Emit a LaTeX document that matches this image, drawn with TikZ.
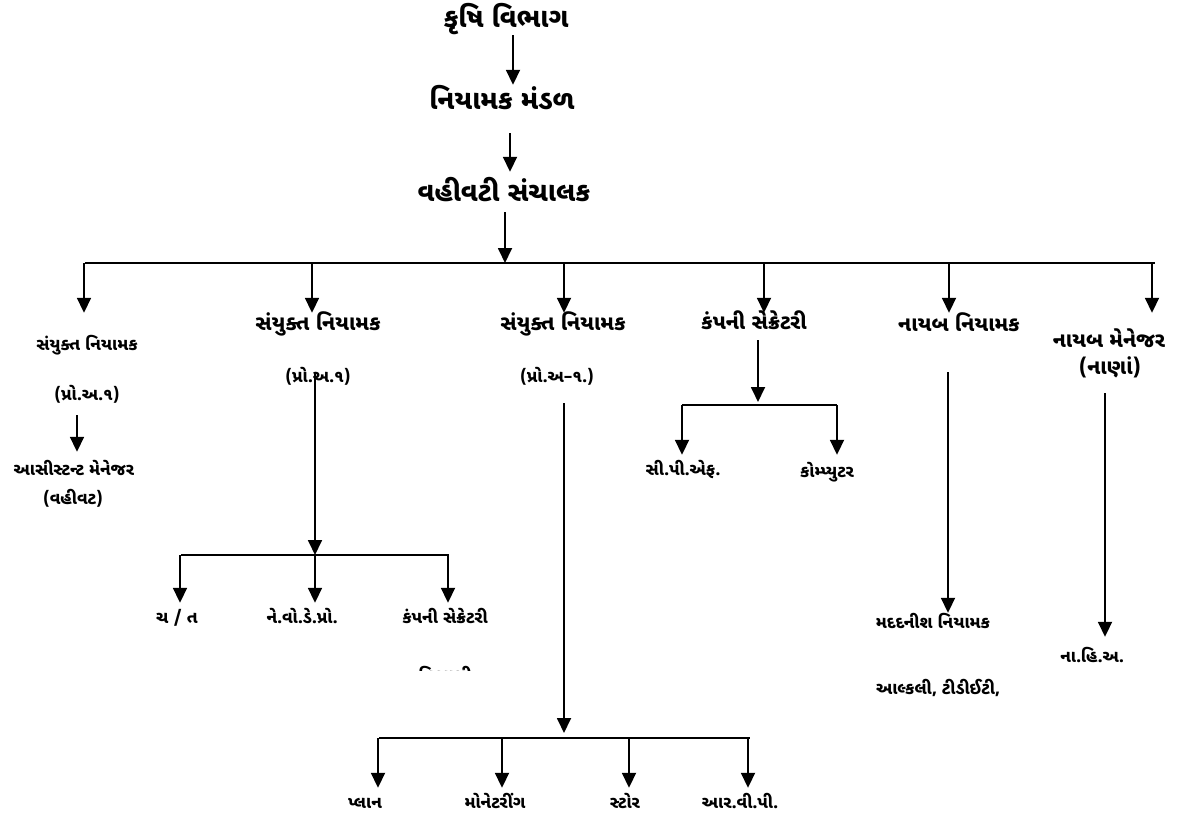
\documentclass[tikz,border=0pt]{standalone}
\usepackage{fontspec}
\newfontfamily\guj[Script=Gujarati]{Noto Sans Gujarati UI}
\usetikzlibrary{arrows.meta,calc}
\begin{document}
\begin{tikzpicture}[x=1pt,y=-1pt,
  big/.style={inner sep=0pt, text height=16.2pt, text depth=0pt, font=\guj\bfseries\fontsize{27}{31}\selectfont},
  mid/.style={inner sep=0pt, text height=12.6pt, text depth=0pt, font=\guj\bfseries\fontsize{21}{25}\selectfont},
  sml/.style={inner sep=0pt, text height=10.2pt, text depth=0pt, font=\guj\bfseries\fontsize{17}{20}\selectfont},
  arr/.style={-{Triangle[width=14pt,length=15pt]}, line width=1.8pt},
  ln/.style={line width=1.8pt}]
\useasboundingbox (0,0) rectangle (1188,822);

% top chain
\node[big] (agri)  at (506,19)  {કૃષિ વિભાગ};
\node[big] (board) at (502,101) {નિયામક મંડળ};
\node[big] (md)    at (504,193) {વહીવટી સંચાલક};
\coordinate (xa) at (513,0);
\coordinate (xb) at (510,0);
\draw[arr, shorten <=7.9pt, shorten >=7.9pt] (agri.south -| xa) -- (board.north -| xa);
\draw[arr, shorten <=23.9pt, shorten >=12.9pt] (board.south -| xb) -- (md.north -| xb);

% main bus
\coordinate (j0) at (505,263);
\coordinate (busL) at (85,263);
\coordinate (busR) at (1155,263);
\draw[arr, shorten <=10.9pt] (md.south -| j0) -- (j0);
\draw[ln] (busL) -- (busR);
\coordinate (b1) at (84,263);
\coordinate (b2) at (312,263);
\coordinate (b3) at (564,263);
\coordinate (b4) at (764,263);
\coordinate (b5) at (949,263);
\coordinate (b6) at (1152,263);

% column 1
\node[sml] (c1)  at (87,345) {સંયુક્ત નિયામક};
\node[sml] (c1p) at (87,395) {(પ્રો.અ.૧)};
\node[sml] (c1s) at (74,470) {આસીસ્ટન્ટ મેનેજર};
\node[sml] (c1v) at (73,499) {(વહીવટ)};
\coordinate (x1) at (77,0);
\draw[arr, shorten >=26.9pt] (b1) -- (b1 |- c1.north);
\draw[arr, shorten <=14.9pt, shorten >=12.9pt] (c1p.south -| x1) -- (c1s.north -| x1);

% column 2
\node[mid] (c2)  at (318,324) {સંયુક્ત નિયામક};
\node[sml] (c2p) at (318,377) {(પ્રો.અ.૧)};
\draw[arr, shorten >=4.7pt] (b2) -- (b2 |- c2.north);
\coordinate (j2) at (315,555);
\draw[arr] (c2p.north -| j2) -- (j2);
\coordinate (s2L) at (181,555);
\coordinate (s2R) at (449,555);
\draw[ln] (s2L) -- (s2R);
\node[sml] (c2a) at (177,618) {ચ / ત};
\node[sml] (c2b) at (302,618) {ને.વો.ડે.પ્રો.};
\node[sml] (c2c) at (445,618) {કંપની સેક્રેટરી};
\coordinate (x2a) at (180,555);
\coordinate (x2c) at (448,555);
\draw[arr, shorten >=9.9pt] (x2a) -- (x2a |- c2a.north);
\draw[arr, shorten >=9.9pt] (j2) -- (j2 |- c2b.north);
\draw[arr, shorten >=9.9pt] (x2c) -- (x2c |- c2c.north);
\begin{scope}
  \clip (400,655) rectangle (500,670);
  \node[sml] (c2d) at (445,676) {વિભાગી};
\end{scope}

% column 3
\node[mid] (c3)  at (563,324) {સંયુક્ત નિયામક};
\node[sml] (c3p) at (557,377) {(પ્રો.અ–૧.)};
\draw[arr, shorten >=4.7pt] (b3) -- (b3 |- c3.north);
\coordinate (j3) at (564,738);
\draw[arr, shorten <=20.9pt, shorten >=5pt] (c3p.south -| j3) -- (j3);
\coordinate (s3L) at (379,738);
\coordinate (s3R) at (750,738);
\draw[ln] (s3L) -- (s3R);
\node[sml] (c3a) at (365,803) {પ્લાન};
\node[sml] (c3b) at (495,803) {મોનેટરીંગ};
\node[sml] (c3c) at (625,803) {સ્ટોર};
\node[sml] (c3d) at (740,803) {આર.વી.પી.};
\coordinate (x3a) at (378,738);
\coordinate (x3b) at (502,738);
\coordinate (x3c) at (629,738);
\coordinate (x3d) at (748,738);
\draw[arr, shorten >=9.9pt] (x3a) -- (x3a |- c3a.north);
\draw[arr, shorten >=9.9pt] (x3b) -- (x3b |- c3b.north);
\draw[arr, shorten >=9.9pt] (x3c) -- (x3c |- c3c.north);
\draw[arr, shorten >=9.9pt] (x3d) -- (x3d |- c3d.north);

% column 4
\node[mid] (c4) at (754,323) {કંપની સેક્રેટરી};
\draw[arr, shorten >=3.7pt] (b4) -- (b4 |- c4.north);
\coordinate (j4) at (758,405);
\draw[arr, shorten <=10.7pt, shorten >=3pt] (c4.south -| j4) -- (j4);
\coordinate (s4L) at (682,405);
\coordinate (s4R) at (837,405);
\draw[ln] (s4L) -- (s4R);
\node[sml] (c4a) at (683,470) {સી.પી.એફ.};
\node[sml] (c4b) at (827,472) {કોમ્પ્યુટર};
\draw[arr, shorten >=9.9pt] (s4L) -- (s4L |- c4a.north);
\draw[arr, shorten >=11.9pt] (s4R) -- (s4R |- c4b.north);

% column 5
\node[mid] (c5)  at (959,325) {નાયબ નિયામક};
\draw[arr, shorten >=5.7pt] (b5) -- (b5 |- c5.north);
\node[sml] (c5m) at (933,623) {મદદનીશ નિયામક};
\node[sml] (c5a) at (938,689) {આલ્કલી, ટીડીઈટી,};
\coordinate (x5) at (948,0);
\draw[arr, shorten <=40.7pt, shorten >=4.9pt] (c5.south -| x5) -- (c5m.north -| x5);

% column 6
\node[mid] (c6)  at (1109,341) {નાયબ મેનેજર};
\node[mid] (c6n) at (1110,368) {(નાણાં)};
\draw[arr, shorten >=21.7pt] (b6) -- (b6 |- c6.north);
\node[sml] (c6h) at (1092,657) {ના.હિ.અ.};
\coordinate (x6) at (1105,0);
\draw[arr, shorten <=18.7pt, shorten >=14.9pt] (c6n.south -| x6) -- (c6h.north -| x6);
\end{tikzpicture}
\end{document}
